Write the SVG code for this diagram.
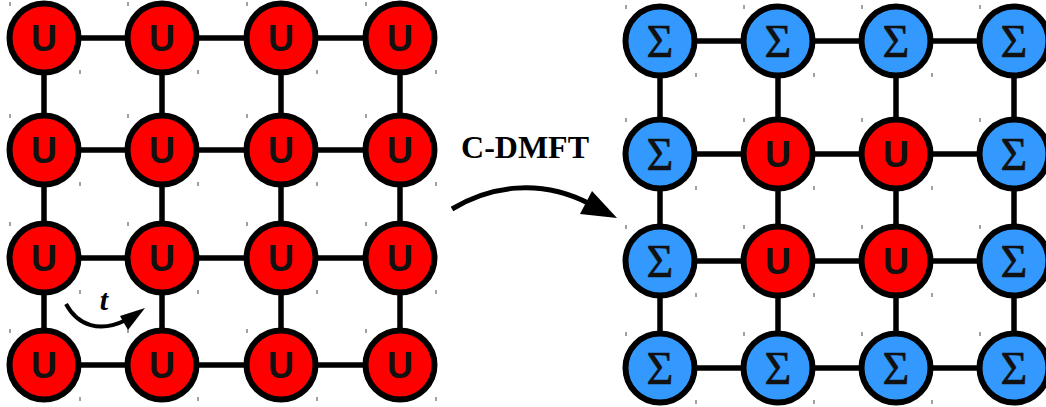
<svg xmlns="http://www.w3.org/2000/svg" width="1046" height="407" viewBox="0 0 1046 407">
<defs>
<style>
.ln{stroke:#000;stroke-width:5.5;fill:none}
.u circle{fill:#ff0000;stroke:#000;stroke-width:6}
.s circle{fill:#3399ff;stroke:#000;stroke-width:6}
.u text{font-family:"Liberation Sans",Arial,sans-serif;font-weight:bold;font-size:36px;fill:#111;text-anchor:middle}
.s text{font-family:"Liberation Serif","Times New Roman",serif;font-size:46px;fill:#111;text-anchor:middle;stroke:#111;stroke-width:0.6}
.tk{stroke:#444;stroke-width:1}
</style>
<g id="ticks-sym">
<line class="tk" x1="-34" y1="-36" x2="-34" y2="-32"/>
<line class="tk" x1="36" y1="32" x2="36" y2="36"/>
</g>
</defs>
<g id="connectors">
<g class="ln">
<line x1="44" y1="38" x2="400" y2="38"/>
<line x1="44" y1="150" x2="400" y2="150"/>
<line x1="44" y1="258" x2="400" y2="258"/>
<line x1="44" y1="365" x2="400" y2="365"/>
<line x1="44" y1="38" x2="44" y2="365"/>
<line x1="162" y1="38" x2="162" y2="365"/>
<line x1="281" y1="38" x2="281" y2="365"/>
<line x1="400" y1="38" x2="400" y2="365"/>
<line x1="660" y1="41" x2="1014" y2="41"/>
<line x1="660" y1="154" x2="1014" y2="154"/>
<line x1="660" y1="261" x2="1014" y2="261"/>
<line x1="660" y1="368" x2="1014" y2="368"/>
<line x1="660" y1="41" x2="660" y2="368"/>
<line x1="778" y1="41" x2="778" y2="368"/>
<line x1="896" y1="41" x2="896" y2="368"/>
<line x1="1014" y1="41" x2="1014" y2="368"/>
</g>
<path d="M452 209 C490 186,540 178,590 204" stroke="#000" stroke-width="5" fill="none"/>
<polygon points="617,218 580,214 592,191"/>
<path d="M66 304 C78 326,100 333,126 320" stroke="#000" stroke-width="4" fill="none"/>
<polygon points="145,308 120,316 128,330"/>
</g>
<g id="labels">
<text x="525" y="158" font-family="'Liberation Serif','Times New Roman',serif" font-weight="bold" font-size="32" text-anchor="middle">C-DMFT</text>
<text x="104" y="310" font-family="'Liberation Serif','Times New Roman',serif" font-weight="bold" font-style="italic" font-size="30" text-anchor="middle">t</text>
</g>
<g id="left-grid">
<g id="L11" class="u" transform="translate(44,38)"><circle r="34.5"/><text y="13">U</text><use href="#ticks-sym"/></g>
<g id="L12" class="u" transform="translate(162,38)"><circle r="34.5"/><text y="13">U</text><use href="#ticks-sym"/></g>
<g id="L13" class="u" transform="translate(281,38)"><circle r="34.5"/><text y="13">U</text><use href="#ticks-sym"/></g>
<g id="L14" class="u" transform="translate(400,38)"><circle r="34.5"/><text y="13">U</text><use href="#ticks-sym"/></g>
<g id="L21" class="u" transform="translate(44,150)"><circle r="34.5"/><text y="13">U</text><use href="#ticks-sym"/></g>
<g id="L22" class="u" transform="translate(162,150)"><circle r="34.5"/><text y="13">U</text><use href="#ticks-sym"/></g>
<g id="L23" class="u" transform="translate(281,150)"><circle r="34.5"/><text y="13">U</text><use href="#ticks-sym"/></g>
<g id="L24" class="u" transform="translate(400,150)"><circle r="34.5"/><text y="13">U</text><use href="#ticks-sym"/></g>
<g id="L31" class="u" transform="translate(44,258)"><circle r="34.5"/><text y="13">U</text><use href="#ticks-sym"/></g>
<g id="L32" class="u" transform="translate(162,258)"><circle r="34.5"/><text y="13">U</text><use href="#ticks-sym"/></g>
<g id="L33" class="u" transform="translate(281,258)"><circle r="34.5"/><text y="13">U</text><use href="#ticks-sym"/></g>
<g id="L34" class="u" transform="translate(400,258)"><circle r="34.5"/><text y="13">U</text><use href="#ticks-sym"/></g>
<g id="L41" class="u" transform="translate(44,365)"><circle r="34.5"/><text y="13">U</text><use href="#ticks-sym"/></g>
<g id="L42" class="u" transform="translate(162,365)"><circle r="34.5"/><text y="13">U</text><use href="#ticks-sym"/></g>
<g id="L43" class="u" transform="translate(281,365)"><circle r="34.5"/><text y="13">U</text><use href="#ticks-sym"/></g>
<g id="L44" class="u" transform="translate(400,365)"><circle r="34.5"/><text y="13">U</text><use href="#ticks-sym"/></g>
</g>
<g id="right-grid">
<g id="R11" class="s" transform="translate(660,41)"><circle r="34.5"/><text y="16">Σ</text><use href="#ticks-sym"/></g>
<g id="R12" class="s" transform="translate(778,41)"><circle r="34.5"/><text y="16">Σ</text><use href="#ticks-sym"/></g>
<g id="R13" class="s" transform="translate(896,41)"><circle r="34.5"/><text y="16">Σ</text><use href="#ticks-sym"/></g>
<g id="R14" class="s" transform="translate(1014,41)"><circle r="34.5"/><text y="16">Σ</text><use href="#ticks-sym"/></g>
<g id="R21" class="s" transform="translate(660,154)"><circle r="34.5"/><text y="16">Σ</text><use href="#ticks-sym"/></g>
<g id="R22" class="u" transform="translate(778,154)"><circle r="34.5"/><text y="13">U</text><use href="#ticks-sym"/></g>
<g id="R23" class="u" transform="translate(896,154)"><circle r="34.5"/><text y="13">U</text><use href="#ticks-sym"/></g>
<g id="R24" class="s" transform="translate(1014,154)"><circle r="34.5"/><text y="16">Σ</text><use href="#ticks-sym"/></g>
<g id="R31" class="s" transform="translate(660,261)"><circle r="34.5"/><text y="16">Σ</text><use href="#ticks-sym"/></g>
<g id="R32" class="u" transform="translate(778,261)"><circle r="34.5"/><text y="13">U</text><use href="#ticks-sym"/></g>
<g id="R33" class="u" transform="translate(896,261)"><circle r="34.5"/><text y="13">U</text><use href="#ticks-sym"/></g>
<g id="R34" class="s" transform="translate(1014,261)"><circle r="34.5"/><text y="16">Σ</text><use href="#ticks-sym"/></g>
<g id="R41" class="s" transform="translate(660,368)"><circle r="34.5"/><text y="16">Σ</text><use href="#ticks-sym"/></g>
<g id="R42" class="s" transform="translate(778,368)"><circle r="34.5"/><text y="16">Σ</text><use href="#ticks-sym"/></g>
<g id="R43" class="s" transform="translate(896,368)"><circle r="34.5"/><text y="16">Σ</text><use href="#ticks-sym"/></g>
<g id="R44" class="s" transform="translate(1014,368)"><circle r="34.5"/><text y="16">Σ</text><use href="#ticks-sym"/></g>
</g>
</svg>
